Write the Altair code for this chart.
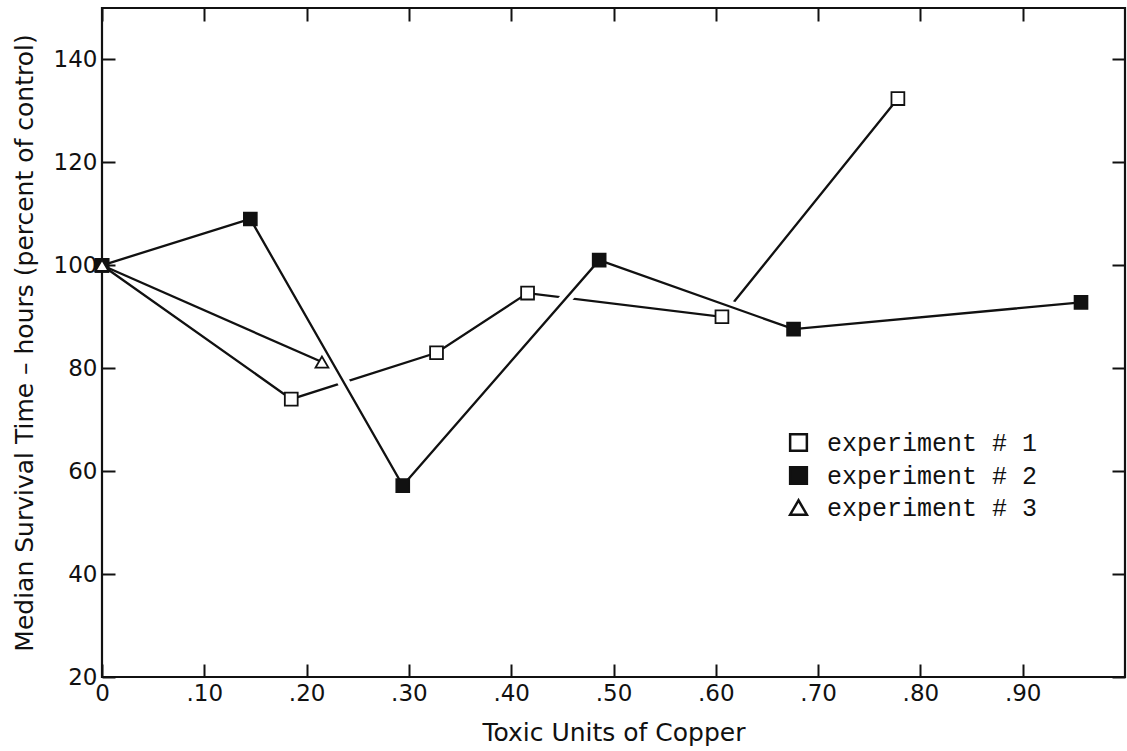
import altair as alt
import pandas as pd

# ---- data ----
series_names = ["experiment # 1", "experiment # 2", "experiment # 3"]
exp1_x = [0.0, 0.185, 0.327, 0.416, 0.606, 0.778]
exp1_y = [100.0, 74.0, 83.0, 94.6, 90.0, 132.4]
exp2_x = [0.0, 0.145, 0.294, 0.486, 0.676, 0.957]
exp2_y = [100.0, 109.0, 57.2, 101.0, 87.6, 92.8]
exp3_x = [0.0, 0.215]
exp3_y = [100.0, 81.2]

x_ticks = [0.0, 0.1, 0.2, 0.3, 0.4, 0.5, 0.6, 0.7, 0.8, 0.9]
y_ticks = [20, 40, 60, 80, 100, 120, 140]

rows = []
for name, xs_, ys_ in zip(series_names, [exp1_x, exp2_x, exp3_x], [exp1_y, exp2_y, exp3_y]):
    for i, (a, b) in enumerate(zip(xs_, ys_)):
        rows.append({"tu": a, "mst": b, "exp": name, "idx": i})
df = pd.DataFrame(rows)

FONT = "DejaVu Sans"
INK = "#111111"
TICK = 13

xscale = alt.Scale(domain=[0, 1.0], nice=False, zero=False)
yscale = alt.Scale(domain=[20, 150], nice=False, zero=False)
label_expr = "datum.value == 0 ? '0' : replace(format(datum.value, '.2f'), '0.', '.')"

common_axis = dict(offset=-TICK, tickSize=TICK, domain=False, grid=False,
                   tickColor=INK, tickWidth=2, labelFlush=False, labelOverlap=False)

x_bottom = alt.Axis(values=x_ticks, labelExpr=label_expr, title="Toxic Units of Copper",
                    labelPadding=5, labelFont=FONT, labelFontSize=23, labelColor=INK,
                    titleFont=FONT, titleFontSize=25, titleFontWeight="normal", titleColor=INK,
                    titlePadding=15, **common_axis)
y_left = alt.Axis(values=y_ticks, title="Median Survival Time – hours (percent of control)",
                  labelPadding=5, labelFont=FONT, labelFontSize=23, labelColor=INK,
                  titleFont=FONT, titleFontSize=25, titleFontWeight="normal", titleColor=INK,
                  titlePadding=16, **common_axis)
x_top = alt.Axis(values=x_ticks, orient="top", labels=False, title=None, **common_axis)
y_right = alt.Axis(values=y_ticks, orient="right", labels=False, title=None, **common_axis)

base = alt.Chart(df)

lines_13 = base.transform_filter(alt.datum.exp != "experiment # 2").mark_line(
    color=INK, strokeWidth=2.3
).encode(
    x=alt.X("tu:Q", scale=xscale, axis=x_bottom),
    y=alt.Y("mst:Q", scale=yscale, axis=y_left),
    detail="exp:N",
    order="tu:Q",
)

halo_2 = base.transform_filter(
    (alt.datum.exp == "experiment # 2") & (alt.datum.idx >= 1)
).mark_line(color="white", strokeWidth=12).encode(
    x=alt.X("tu:Q", scale=xscale, axis=x_top),
    y=alt.Y("mst:Q", scale=yscale, axis=y_right),
    order="tu:Q",
)

line_2 = base.transform_filter(alt.datum.exp == "experiment # 2").mark_line(
    color=INK, strokeWidth=2.3
).encode(
    x=alt.X("tu:Q", scale=xscale, axis=None),
    y=alt.Y("mst:Q", scale=yscale, axis=None),
    order="tu:Q",
)

leg = alt.Legend(title=None, orient="none", legendX=684, legendY=422,
                 labelFont="Liberation Mono", labelFontSize=25, labelColor=INK,
                 labelLimit=0, symbolSize=280, symbolStrokeWidth=2.5,
                 symbolStrokeColor=INK, rowPadding=6, labelOffset=16)

points = base.mark_point(filled=True, strokeWidth=1.8, size=165, opacity=1).encode(
    x=alt.X("tu:Q", scale=xscale, axis=None),
    y=alt.Y("mst:Q", scale=yscale, axis=None),
    shape=alt.Shape("exp:N", scale=alt.Scale(domain=series_names,
                                              range=["square", "square", "triangle-up"]),
                    legend=leg),
    fill=alt.Fill("exp:N", scale=alt.Scale(domain=series_names,
                                            range=["white", INK, "white"]),
                  legend=leg),
    stroke=alt.Stroke("exp:N", scale=alt.Scale(domain=series_names,
                                                range=[INK, INK, INK]),
                      legend=leg),
)

chart = alt.layer(lines_13, halo_2, line_2, points).resolve_axis(
    x="independent", y="independent"
).properties(
    width=1023, height=669,
    autosize=alt.AutoSizeParams(type="none"),
    padding={"left": 102, "top": 8, "right": 2, "bottom": 74},
    background="white",
).configure_view(stroke=INK, strokeWidth=2.2)

chart.save("out.html", embed_options={"renderer": "svg", "actions": False})
